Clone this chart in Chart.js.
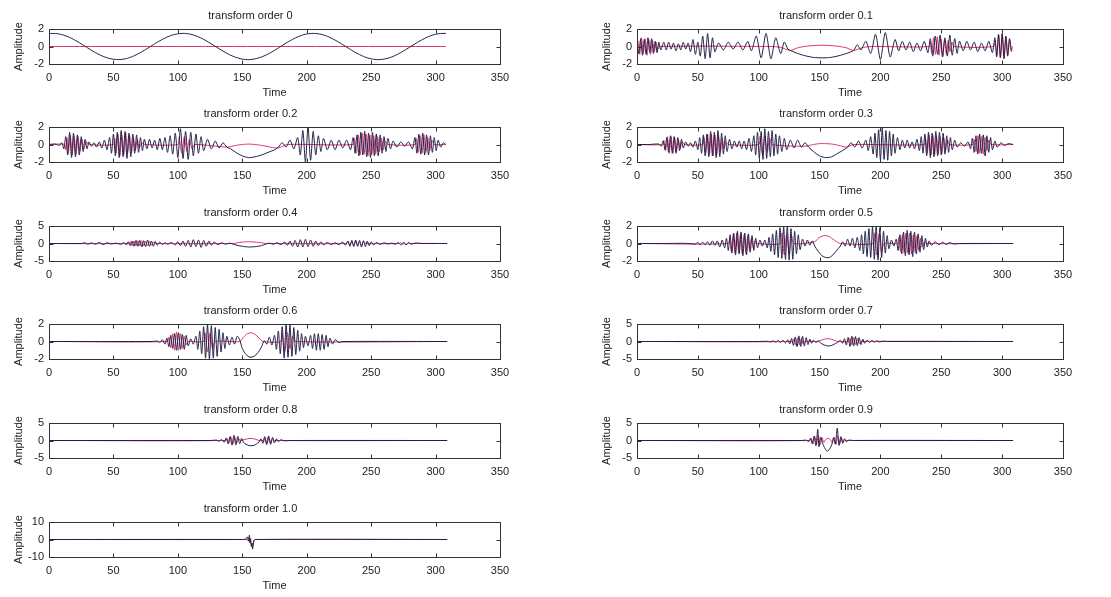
<!DOCTYPE html>
<html>
<head>
<meta charset="utf-8">
<script src="https://cdn.jsdelivr.net/npm/chart.js@4"></script>
<style>
  body { margin: 0; background: #fff; }
  #wrap { position: relative; width: 1111px; height: 597px; overflow: hidden; }
  #wrap canvas { position: absolute; }
</style>
</head>
<body>
<div id="wrap"></div>
<script>
// transform orders shown in the panels
const orders = ['0', '0.1', '0.2', '0.3', '0.4', '0.5', '0.6', '0.7', '0.8', '0.9', '1.0'];
// symmetric amplitude limit of each panel
const yLimits = [2, 2, 2, 2, 5, 2, 2, 5, 5, 5, 10];
const timeMax = 350;
const timeStep = 50;

// values, [time, amplitude]
const re00 = [[0,1.47],[5,1.49],[10,1.36],[15,1.10],[20,0.74],[25,0.30],[30,-0.16],[35,-0.61],[40,-1.00],[45,-1.29],[50,-1.46],[55,-1.49],[60,-1.38],[65,-1.13],[70,-0.77],[75,-0.35],[80,0.12],[85,0.57],[90,0.97],[95,1.27],[100,1.45],[105,1.50],[110,1.40],[115,1.16],[120,0.82],[125,0.39],[130,-0.07],[135,-0.52],[140,-0.93],[145,-1.24],[150,-1.44],[155,-1.50],[160,-1.41],[165,-1.19],[170,-0.86],[175,-0.44],[180,0.02],[185,0.48],[190,0.89],[195,1.22],[200,1.43],[205,1.50],[210,1.43],[215,1.22],[220,0.89],[225,0.48],[230,0.03],[235,-0.44],[240,-0.85],[245,-1.19],[250,-1.41],[255,-1.50],[260,-1.44],[265,-1.25],[270,-0.93],[275,-0.52],[280,-0.07],[285,0.39],[290,0.81],[295,1.16],[300,1.40],[305,1.50],[308,1.48]];
const im00 = [[0,0],[308,0]];

const re01 = [[0,0.3],[1.5,-0.8],[3,0.9],[4.5,-1],[6,0.8],[7.5,-0.9],[9,1],[10.5,-0.7],[12,0.9],[13.5,-0.8],[15,0.6],[16.5,-0.7],[18,0.5],[19.5,-0.4],[22,0.5],[24,-0.4],[26,0.5],[28,-0.3],[30,0.4],[32,-0.5],[34,0.3],[36,-0.4],[38,0.5],[40,-0.3],[42,0.4],[44,-0.6],[46,0.8],[48,-0.9],[50,0.5],[52,-1.1],[54,1.2],[56,-1.4],[58,1.5],[60,-1.3],[62,1.0],[64,-0.6],[67,0.4],[71,-0.4],[75,0.5],[79,-0.3],[83,0.5],[87,-0.4],[91,0.6],[94,-0.5],[98,1.2],[102,-1.3],[106,1.5],[110,-1.4],[114,1.0],[118,-0.8],[121,0.5],[124,-0.3],[126,-0.45],[132,-0.8],[138,-1.05],[145,-1.25],[152,-1.3],[159,-1.25],[166,-1.05],[172,-0.8],[178,-0.45],[181,0.2],[184,-0.4],[188,0.6],[192,-0.8],[196,1.4],[200,-1.5],[204,1.6],[208,-1.2],[212,0.8],[215,-0.5],[218,0.6],[221,-0.4],[224,0.5],[227,-0.6],[230,0.4],[233,-0.5],[236,0.6],[239,-0.7],[241,0.9],[243,-1.1],[245,1.2],[247,-0.9],[249,1.3],[251,-1.2],[253,1.0],[255,-1.1],[257,1.3],[259,-1.0],[261,0.9],[263,-0.8],[265,0.6],[268,-0.5],[271,0.6],[274,-0.4],[277,0.5],[280,-0.6],[283,0.4],[286,-0.5],[289,0.6],[292,-0.7],[294,1.0],[295.5,-1.2],[297,1.4],[298.5,-1.3],[300,1.5],[301.5,-1.4],[303,1.2],[304.5,-1.1],[306,0.9],[307.5,-0.6]];
const im01 = [[0,0],[0.8,0.6],[2.2,-0.9],[3.7,1.0],[5.2,-0.8],[6.7,0.9],[8.2,-1.0],[9.7,0.8],[11.2,-0.9],[12.7,0.7],[14.2,-0.6],[15.7,0.5],[17.2,-0.3],[19,0],[110,0],[118,-0.1],[126,-0.45],[132,-0.15],[140,0.05],[152,0.15],[164,0.05],[172,-0.15],[178,-0.45],[186,-0.1],[195,0],[240,0],[240.8,0.6],[242.2,-0.8],[243.7,1.0],[245.2,-0.9],[246.7,1.1],[248.2,-1.0],[249.7,0.9],[251.2,-1.1],[252.7,0.8],[254.2,-0.9],[255.7,0.7],[257.2,-0.6],[258.7,0.5],[260.5,0],[293,0],[294.2,0.7],[295.7,-1.0],[297.2,1.3],[298.7,-1.2],[300.2,1.4],[301.7,-1.3],[303.2,1.1],[304.7,-1.0],[306.2,0.8],[307.7,-0.5],[308.5,0]];

const re02 = [[0,0],[5,0.05],[8,-0.1],[10,0.2],[11.5,-0.5],[13,0.9],[14.5,-1.2],[16,1.4],[17.5,-1.5],[19,1.3],[20.5,-1.4],[22,1.1],[23.5,-1.2],[25,0.9],[26.5,-0.8],[28,0.6],[29.5,-0.5],[31,0.3],[33,-0.2],[35,0.2],[37,-0.3],[39,0.3],[41,-0.4],[43,0.5],[45,-0.6],[47,0.8],[48.5,-1.0],[50,1.2],[51.5,-1.3],[53,1.4],[54.5,-1.5],[56,1.6],[57.5,-1.4],[59,1.5],[60.5,-1.6],[62,1.3],[63.5,-1.4],[65,1.2],[66.5,-1.0],[68,1.1],[69.5,-0.9],[71,0.8],[72.5,-0.7],[74,0.6],[76,-0.5],[78,0.6],[80,-0.4],[82,0.5],[84,-0.6],[86,0.7],[88,-0.6],[90,0.8],[92,-0.9],[94,1.0],[96,-1.1],[98,1.3],[100,-1.5],[102,1.8],[104,-1.6],[106,1.5],[108,-1.7],[110,1.4],[112,-1.3],[114,1.2],[116,-1.0],[118,0.9],[120,-0.7],[123,0.6],[126,-0.5],[129,0.4],[132,-0.4],[135,0.2],[138,-0.3],[141,-0.5],[145,-0.9],[150,-1.3],[155,-1.5],[160,-1.4],[165,-1.2],[170,-0.9],[175,-0.6],[178,-0.3],[181,0.2],[184,-0.3],[187,0.5],[190,-0.5],[193,0.8],[195,-1.2],[197,1.6],[199,-2.0],[201,2.0],[203,-1.8],[205,1.5],[207,-1.2],[209,1.0],[211,-0.8],[213,0.7],[216,-0.6],[219,0.5],[222,-0.6],[225,0.5],[228,-0.4],[231,0.5],[234,-0.6],[236,0.8],[237.5,-1.0],[239,1.1],[240.5,-1.3],[242,1.4],[243.5,-1.2],[245,1.5],[246.5,-1.4],[248,1.3],[249.5,-1.5],[251,1.4],[252.5,-1.3],[254,1.2],[255.5,-1.3],[257,1.1],[258.5,-1.0],[260,0.9],[261.5,-0.8],[263,0.7],[265,-0.5],[267,0.4],[270,-0.3],[273,0.3],[276,-0.2],[279,0.3],[282,-0.5],[284,0.8],[285.5,-1.0],[287,1.2],[288.5,-1.1],[290,1.3],[291.5,-1.2],[293,1.1],[294.5,-1.2],[296,1.0],[297.5,-0.9],[299,0.8],[300.5,-0.7],[302,0.5],[304,-0.3],[306,0.2],[308,0]];
const im02 = [[0,0],[12,0],[13,-0.6],[14,0.8],[15,-1.0],[16.5,1.1],[18,-1.2],[19.5,1.0],[21,-1.1],[22.5,0.9],[24,-0.8],[25.5,0.6],[27,-0.5],[29,0.3],[31,0],[50,0],[51,0.7],[52,-1.0],[53.5,1.2],[55,-1.3],[56.5,1.1],[58,-1.2],[59.5,1.3],[61,-1.0],[62.5,1.1],[64,-0.9],[65.5,0.8],[67,-0.7],[68.5,0.6],[70,-0.4],[72,0.2],[74,0],[100,0],[101,0.8],[103,-1.0],[105,0.9],[107,-0.8],[109,0.6],[111,-0.5],[113,0],[138,-0.3],[145,-0.1],[150,0],[155,0.05],[160,0],[165,-0.1],[172,-0.3],[178,-0.4],[185,0],[236,0],[237,0.7],[238.5,-1.0],[240,1.1],[241.5,-1.2],[243,1.3],[244.5,-1.1],[246,1.2],[247.5,-1.3],[249,1.1],[250.5,-1.2],[252,1.0],[253.5,-1.1],[255,0.9],[256.5,-0.8],[258,0.7],[259.5,-0.6],[261,0.4],[263,0],[284,0],[285,0.7],[286.5,-0.9],[288,1.0],[289.5,-1.0],[291,1.1],[292.5,-0.9],[294,0.8],[295.5,-0.7],[297,0.5],[299,0],[308,0]];

const re03 = [[0,0],[10,0],[18,0.05],[20,-0.2],[21.5,0.4],[23,-0.6],[24.5,0.8],[26,-0.9],[27.5,1.0],[29,-1.0],[30.5,0.9],[32,-1.0],[33.5,0.8],[35,-0.7],[36.5,0.6],[38,-0.4],[40,0.3],[42,-0.2],[44,0.2],[46,-0.3],[48,0.4],[50,-0.6],[51.5,0.8],[53,-1.0],[54.5,1.1],[56,-1.3],[57.5,1.2],[59,-1.4],[60.5,1.5],[62,-1.3],[63.5,1.4],[65,-1.5],[66.5,1.6],[68,-1.4],[69.5,1.3],[71,-1.1],[72.5,1.0],[74,-0.8],[76,0.6],[78,-0.5],[80,0.4],[82,-0.3],[84,0.4],[86,-0.5],[88,0.4],[90,-0.6],[92,0.7],[94,-0.8],[96,1.0],[97.5,-1.2],[99,1.4],[100.5,-1.6],[102,1.5],[103.5,-1.7],[105,1.8],[106.5,-1.6],[108,1.5],[109.5,-1.4],[111,1.6],[112.5,-1.3],[114,1.2],[115.5,-1.1],[117,1.0],[119,-0.8],[121,0.7],[123,-0.6],[126,0.5],[129,-0.4],[132,0.5],[135,-0.3],[138,0.2],[141,-0.3],[145,-0.8],[150,-1.3],[155,-1.5],[160,-1.4],[165,-1.0],[170,-0.6],[173,-0.3],[176,0.2],[179,-0.3],[182,0.4],[185,-0.4],[188,0.5],[190,-0.7],[192,0.9],[194,-1.1],[195.5,1.3],[197,-1.5],[198.5,1.7],[200,-1.8],[201.5,1.9],[203,-1.7],[204.5,1.6],[206,-1.8],[207.5,1.5],[209,-1.3],[210.5,1.2],[212,-1.0],[214,0.8],[216,-0.6],[218,0.5],[220,-0.4],[222,0.5],[224,-0.4],[226,0.3],[228,-0.5],[230,0.6],[232,-0.7],[233.5,0.9],[235,-1.0],[236.5,1.2],[238,-1.3],[239.5,1.4],[241,-1.5],[242.5,1.3],[244,-1.4],[245.5,1.5],[247,-1.3],[248.5,1.4],[250,-1.2],[251.5,1.3],[253,-1.1],[254.5,1.0],[256,-0.9],[257.5,0.8],[259,-0.6],[261,0.5],[263,-0.3],[266,0.2],[269,-0.2],[272,0.3],[274,-0.5],[275.5,0.7],[277,-0.9],[278.5,1.0],[280,-1.1],[281.5,1.2],[283,-1.0],[284.5,1.1],[286,-1.3],[287.5,1.0],[289,-0.9],[290.5,0.8],[292,-0.6],[294,0.4],[296,-0.3],[299,0.2],[302,-0.1],[305,0.1],[309,0]];
const im03 = [[0,0],[21,0],[22,0.5],[23.5,-0.7],[25,0.9],[26.5,-1.0],[28,0.9],[29.5,-1.0],[31,0.8],[32.5,-0.8],[34,0.6],[35.5,-0.5],[37,0.3],[39,0],[54,0],[55,0.8],[56.5,-1.0],[58,1.2],[59.5,-1.1],[61,1.2],[62.5,-1.3],[64,1.1],[65.5,-1.2],[67,1.0],[68.5,-0.9],[70,0.7],[71.5,-0.5],[73,0.3],[75,0],[100,0],[101,0.9],[103,-1.1],[105,1.0],[107,-0.9],[109,0.7],[111,0],[138,-0.2],[145,0],[150,0.1],[155,0.1],[160,0.05],[166,-0.1],[172,-0.3],[178,0],[236,0],[237,0.8],[238.5,-1.0],[240,1.1],[241.5,-1.2],[243,1.1],[244.5,-1.2],[246,1.0],[247.5,-1.1],[249,0.9],[250.5,-1.0],[252,0.8],[253.5,-0.7],[255,0.5],[257,0],[276,0],[277,0.6],[278.5,-0.8],[280,1.0],[281.5,-1.0],[283,0.9],[284.5,-1.1],[286,0.8],[287.5,-0.7],[289,0.5],[291,0],[309,0]];

const re04 = [[0,0],[25,0],[28,0.2],[30,-0.2],[33,0.2],[36,-0.2],[39,0.3],[42,-0.3],[45,0.2],[48,-0.1],[52,0.1],[56,-0.2],[58,0.3],[60,-0.4],[61.5,0.5],[63,-0.6],[64.5,0.7],[66,-0.8],[67.5,0.9],[69,-0.8],[70.5,0.9],[72,-1.0],[73.5,0.8],[75,-0.9],[76.5,1.0],[78,-0.8],[79.5,0.7],[81,-0.8],[82.5,0.6],[84,-0.5],[86,0.4],[88,-0.3],[90,0.2],[92,-0.2],[95,0.3],[98,-0.4],[100,0.5],[102,-0.6],[104,0.7],[106,-0.8],[108,0.9],[110,-1.0],[112,1.1],[114,-0.9],[116,1.0],[118,-1.1],[120,0.9],[122,-0.8],[124,0.7],[126,-0.5],[128,0.4],[131,-0.3],[134,0.2],[137,-0.2],[140,0.1],[143,-0.2],[146,-0.5],[150,-0.8],[155,-1.0],[160,-0.9],[165,-0.6],[168,-0.2],[171,0.1],[174,-0.2],[177,0.2],[180,-0.3],[183,0.4],[185,-0.5],[187,0.7],[189,-0.8],[191,0.9],[193,-1.0],[195,1.1],[197,-1.0],[199,1.2],[201,-0.9],[203,1.0],[205,-0.8],[207,0.7],[209,-0.6],[211,0.5],[213,-0.4],[216,0.3],[219,-0.3],[222,0.2],[225,-0.3],[228,0.4],[230,-0.5],[232,0.7],[233.5,-0.8],[235,0.9],[236.5,-0.9],[238,1.0],[239.5,-0.8],[241,0.9],[242.5,-1.0],[244,0.8],[245.5,-0.9],[247,0.7],[248.5,-0.6],[250,0.5],[252,-0.4],[254,0.3],[257,-0.2],[260,0.2],[263,-0.1],[266,0.1],[269,-0.2],[271,0.3],[273,-0.4],[275,0.3],[277,-0.4],[279,0.3],[281,-0.2],[284,0.1],[290,0],[309,0]];
const im04 = [[0,0],[62,0],[63,0.5],[64.5,-0.6],[66,0.7],[67.5,-0.7],[69,0.8],[70.5,-0.7],[72,0.8],[73.5,-0.7],[75,0.6],[76.5,-0.7],[78,0.6],[79.5,-0.5],[81,0.4],[83,0],[143,0],[146,0.2],[150,0.4],[155,0.5],[160,0.4],[165,0.2],[168,0],[231,0],[232,0.5],[233.5,-0.6],[235,0.7],[236.5,-0.6],[238,0.7],[239.5,-0.6],[241,0.5],[242.5,-0.6],[244,0.5],[246,0],[272,0],[273,0.3],[274.5,-0.3],[276,0.3],[277.5,-0.3],[279,0],[309,0]];

const re05 = [[0,0],[20,0],[40,0.02],[48,-0.05],[50,0.1],[52,-0.1],[54,0.15],[56,-0.15],[58,0.2],[60,-0.2],[62,0.3],[64,-0.2],[66,0.3],[68,-0.4],[70,0.4],[72,-0.5],[73.5,0.6],[75,-0.8],[76.5,1.0],[78,-1.1],[79.5,1.2],[81,-1.3],[82.5,1.4],[84,-1.2],[85.5,1.3],[87,-1.4],[88.5,1.2],[90,-1.3],[91.5,1.1],[93,-1.0],[94.5,0.9],[96,-0.8],[97.5,0.6],[99,-0.5],[101,0.4],[103,-0.3],[105,0.4],[107,-0.5],[108.5,0.7],[110,-0.9],[111.5,1.1],[113,-1.3],[114.5,1.5],[116,-1.6],[117.5,1.8],[119,-1.7],[120.5,1.9],[122,-1.8],[123.5,2.0],[125,-1.9],[126.5,1.7],[128,-1.8],[129.5,1.4],[131,-1.2],[132.5,1.0],[134,-0.7],[136,0.5],[138,-0.3],[140,0.4],[142,-0.2],[144,0.3],[146,-0.3],[149,-0.9],[152,-1.4],[155,-1.6],[158,-1.6],[161,-1.3],[164,-0.8],[167,-0.3],[169,0.2],[171,-0.3],[173,0.5],[175,-0.3],[177,0.6],[179,-0.5],[181,0.7],[183,-0.8],[184.5,1.0],[186,-1.2],[187.5,1.4],[189,-1.5],[190.5,1.7],[192,-1.6],[193.5,1.9],[195,-1.8],[196.5,2.0],[198,-1.9],[199.5,1.8],[201,-1.6],[202.5,1.4],[204,-1.1],[205.5,0.9],[207,-0.6],[209,0.4],[211,-0.3],[213,0.5],[214.5,-0.8],[216,1.0],[217.5,-1.2],[219,1.3],[220.5,-1.4],[222,1.5],[223.5,-1.3],[225,1.4],[226.5,-1.5],[228,1.3],[229.5,-1.2],[231,1.1],[232.5,-1.0],[234,0.9],[235.5,-0.7],[237,0.6],[238.5,-0.4],[240,0.3],[242,-0.2],[245,0.2],[248,-0.15],[251,0.15],[254,-0.1],[257,0.1],[260,-0.05],[265,0],[309,0]];
const im05 = [[0,0],[75,0],[76,0.7],[77.5,-0.9],[79,1.0],[80.5,-1.1],[82,1.2],[83.5,-1.0],[85,1.1],[86.5,-1.2],[88,1.0],[89.5,-1.1],[91,0.9],[92.5,-0.8],[94,0.6],[95.5,-0.5],[97,0.3],[99,0],[118,0],[119,1.2],[121,-1.3],[123,1.1],[125,-1.2],[127,0.9],[129,0],[146,0.2],[149,0.6],[152,0.85],[155,0.9],[158,0.8],[161,0.5],[164,0.2],[167,0],[194,0],[195,1.2],[197,-1.3],[199,1.1],[201,-1.0],[203,0],[214,0],[215,0.7],[216.5,-0.9],[218,1.0],[219.5,-1.1],[221,1.2],[222.5,-1.1],[224,1.2],[225.5,-1.2],[227,1.0],[228.5,-1.0],[230,0.9],[231.5,-0.8],[233,0.6],[234.5,-0.4],[236,0.2],[238,0],[309,0]];

const re06 = [[0,0],[80,0],[84,0.05],[86,-0.1],[88,0.2],[90,-0.3],[91.5,0.4],[93,-0.6],[94.5,0.7],[96,-0.8],[97.5,0.9],[99,-1.0],[100.5,1.0],[102,-0.9],[103.5,0.8],[105,-0.9],[106.5,0.7],[108,-0.5],[110,0.3],[112,-0.3],[114,0.6],[115.5,-0.9],[117,1.2],[118.5,-1.4],[120,1.7],[121.5,-1.9],[123,2.0],[124.5,-2.0],[126,1.8],[127.5,-1.9],[129,1.6],[130.5,-1.7],[132,1.4],[133.5,-1.2],[135,1.0],[136.5,-0.8],[138,0.6],[140,-0.4],[142,0.5],[144,-0.3],[146,0.6],[148,0.2],[150,-0.8],[153,-1.5],[156,-1.8],[159,-1.7],[162,-1.3],[165,-0.6],[167,0.1],[169,-0.3],[171,0.5],[173,-0.4],[175,0.7],[176.5,-0.9],[178,1.2],[179.5,-1.4],[181,1.7],[182.5,-1.9],[184,2.0],[185.5,-1.8],[187,1.9],[188.5,-1.7],[190,1.6],[191.5,-1.5],[193,1.3],[194.5,-1.1],[196,0.9],[197.5,-0.7],[199,0.6],[201,-0.5],[203,0.7],[204.5,-0.8],[206,0.9],[207.5,-1.0],[209,0.9],[210.5,-1.0],[212,0.8],[213.5,-0.9],[215,0.7],[216.5,-0.6],[218,0.4],[220,-0.3],[222,0.2],[225,-0.1],[228,0],[309,0]];
const im06 = [[0,0],[92,0],[93,0.5],[94.5,-0.7],[96,0.9],[97.5,-1.0],[99,1.1],[100.5,-1.0],[102,0.9],[103.5,-0.8],[105,0.6],[106.5,-0.4],[108,0],[120,0],[121,1.0],[123,-1.2],[125,1.0],[127,-0.9],[129,0],[148,0],[151,0.5],[154,0.9],[157,1.0],[160,0.8],[163,0.4],[166,0],[180,0],[181,0.9],[183,-1.1],[185,1.0],[187,-0.8],[189,0.6],[191,0],[309,0]];

const re07 = [[0,0],[100,0],[108,0.05],[110,-0.1],[112,0.2],[114,-0.2],[116,0.3],[118,-0.3],[120,0.4],[122,-0.4],[124,0.5],[125.5,-0.7],[127,0.9],[128.5,-1.1],[130,1.3],[131.5,-1.5],[133,1.6],[134.5,-1.4],[136,1.5],[137.5,-1.3],[139,1.1],[140.5,-0.9],[142,0.7],[143.5,-0.5],[145,0.4],[147,-0.3],[149,0.2],[151,-0.5],[154,-1.0],[157,-1.3],[160,-1.1],[163,-0.6],[165,-0.2],[167,0.3],[169,-0.5],[170.5,0.8],[172,-1.0],[173.5,1.2],[175,-1.4],[176.5,1.5],[178,-1.3],[179.5,1.4],[181,-1.2],[182.5,1.1],[184,-0.9],[185.5,0.7],[187,-0.5],[189,0.4],[191,-0.3],[193,0.3],[195,-0.2],[197,0.2],[199,-0.15],[202,0.1],[206,0],[309,0]];
const im07 = [[0,0],[128,0],[129,0.8],[130.5,-1.0],[132,1.1],[133.5,-1.0],[135,0.9],[136.5,-0.7],[138,0],[148,0],[151,0.3],[154,0.7],[157,0.8],[160,0.6],[163,0.2],[165,0],[174,0],[175,0.9],[176.5,-1.0],[178,1.1],[179.5,-0.9],[181,0.8],[182.5,-0.6],[184,0],[309,0]];

const re08 = [[0,0],[125,0],[130,0.1],[132,-0.2],[134,0.3],[136,-0.5],[137.5,0.7],[139,-0.9],[140.5,1.1],[142,-1.3],[143.5,1.5],[145,-1.3],[146.5,1.2],[148,-0.9],[149.5,0.6],[151,-0.6],[153,-1.1],[156,-1.5],[159,-1.4],[161,-1.0],[163,-0.4],[164.5,0.5],[166,-0.8],[167.5,1.1],[169,-1.2],[170.5,1.3],[172,-1.1],[173.5,0.9],[175,-0.7],[176.5,0.5],[178,-0.3],[180,0.2],[183,-0.1],[186,0],[309,0]];
const im08 = [[0,0],[137,0],[138,0.7],[139.5,-0.9],[141,1.1],[142.5,-1.2],[144,1.0],[145.5,-0.8],[147,0.5],[149,0],[152,0.3],[156,0.6],[160,0.4],[163,0],[166,0],[167,0.6],[168.5,-0.8],[170,0.9],[171.5,-0.7],[173,0.4],[175,0],[309,0]];

const re09 = [[0,0],[135,0],[139,0.1],[141,-0.3],[142.5,0.6],[144,-0.9],[145.5,1.2],[147,-1.5],[148.5,3.2],[149.5,-1.8],[151,1.0],[152.5,-0.8],[154,-2.0],[156,-3.0],[158,-2.6],[160,-1.2],[161.5,0.8],[163,-1.0],[164.5,3.5],[166,-1.4],[167.5,1.1],[169,-0.8],[170.5,0.5],[172,-0.3],[174,0.1],[178,0],[309,0]];
const im09 = [[0,0],[142,0],[143,0.7],[144.5,-1.0],[146,1.2],[147.5,-1.1],[149,1.4],[150.5,-1.2],[152,0.8],[153.5,-0.5],[155,0.3],[157,0.6],[159,0.2],[160.5,-0.6],[162,1.0],[163.5,-1.2],[165,1.3],[166.5,-1.0],[168,0.7],[169.5,-0.4],[171,0],[309,0]];

const re10 = [[0,0],[150,0],[153,0.3],[154,1.5],[155,-1.0],[155.5,2.5],[156,-2.0],[156.5,0.5],[157,-4.0],[157.5,-2.0],[158,-5.5],[158.5,-3.0],[159,-1.0],[160,0],[309,0]];
const im10 = [[0,0],[153,0],[154,-0.5],[155,1.2],[156,-1.5],[157,-3.0],[158,-4.0],[159,-0.5],[160,0],[309,0]];

const realParts = [re00, re01, re02, re03, re04, re05, re06, re07, re08, re09, re10];
const imagParts = [im00, im01, im02, im03, im04, im05, im06, im07, im08, im09, im10];

// layout of the 6x2 grid of axes boxes
const colLeft = [49, 637];
const colWidth = [451, 426];
const rowTop = [29, 127, 226, 324, 423, 522];
const boxH = 35;
const sideM = 48, topM = 24, bottomM = 36;

const textColor = '#222';
const font = { family: '"Liberation Sans", Arial, sans-serif', size: 11 };

// MATLAB style box with inward ticks on all four sides
const boxTicks = {
  id: 'boxTicks',
  afterDraw(chart) {
    const { ctx, chartArea: a, scales } = chart;
    const L = Math.round(a.left) + 0.5, T = Math.round(a.top) + 0.5;
    const R = Math.round(a.right) + 0.5, B = Math.round(a.bottom) + 0.5;
    ctx.save();
    ctx.strokeStyle = '#333';
    ctx.lineWidth = 1;
    ctx.strokeRect(L, T, R - L, B - T);
    ctx.beginPath();
    scales.x.ticks.forEach(t => {
      const px = Math.round(scales.x.getPixelForValue(t.value)) + 0.5;
      ctx.moveTo(px, B); ctx.lineTo(px, B - 4);
      ctx.moveTo(px, T); ctx.lineTo(px, T + 4);
    });
    scales.y.ticks.forEach(t => {
      const py = Math.round(scales.y.getPixelForValue(t.value)) + 0.5;
      ctx.moveTo(L, py); ctx.lineTo(L + 4, py);
      ctx.moveTo(R, py); ctx.lineTo(R - 4, py);
    });
    ctx.stroke();
    ctx.restore();
  }
};

const wrap = document.getElementById('wrap');
orders.forEach((ord, k) => {
  const col = k % 2, row = Math.floor(k / 2);
  const cv = document.createElement('canvas');
  const w = colWidth[col] + 2 * sideM, h = topM + boxH + bottomM;
  cv.width = w; cv.height = h;
  cv.style.left = (colLeft[col] - sideM) + 'px';
  cv.style.top = (rowTop[row] - topM) + 'px';
  cv.style.width = w + 'px'; cv.style.height = h + 'px';
  wrap.appendChild(cv);

  const lim = yLimits[k];
  new Chart(cv.getContext('2d'), {
    type: 'line',
    data: {
      datasets: [
        { data: realParts[k], borderColor: '#1f1d45', borderWidth: 1, pointRadius: 0, tension: 0.25 },
        { data: imagParts[k], borderColor: '#e0336f', borderWidth: 1, pointRadius: 0, tension: 0.25 }
      ]
    },
    options: {
      responsive: false,
      animation: false,
      events: [],
      layout: { padding: { left: 0, right: sideM, top: 0, bottom: 0 } },
      plugins: {
        legend: { display: false },
        tooltip: { enabled: false },
        title: {
          display: true,
          text: 'transform order ' + ord,
          color: textColor,
          font: { ...font, weight: 'normal', lineHeight: 1 },
          padding: { top: 5, bottom: 8 }
        }
      },
      scales: {
        x: {
          type: 'linear',
          min: 0, max: timeMax,
          afterFit: s => { s.height = bottomM; },
          grid: { display: false, drawTicks: false },
          border: { display: false },
          ticks: { stepSize: timeStep, color: textColor, font, padding: 7, maxRotation: 0 },
          title: { display: true, text: 'Time', color: textColor, font, padding: { top: 0, bottom: 0 } }
        },
        y: {
          min: -lim, max: lim,
          afterFit: s => { s.width = sideM; },
          grid: { display: false, drawTicks: false },
          border: { display: false },
          ticks: { stepSize: lim, color: textColor, font, padding: 5 },
          title: { display: true, text: 'Amplitude', color: textColor, font, padding: { top: 11, bottom: 0 } }
        }
      }
    },
    plugins: [boxTicks]
  });
});
</script>
</body>
</html>
